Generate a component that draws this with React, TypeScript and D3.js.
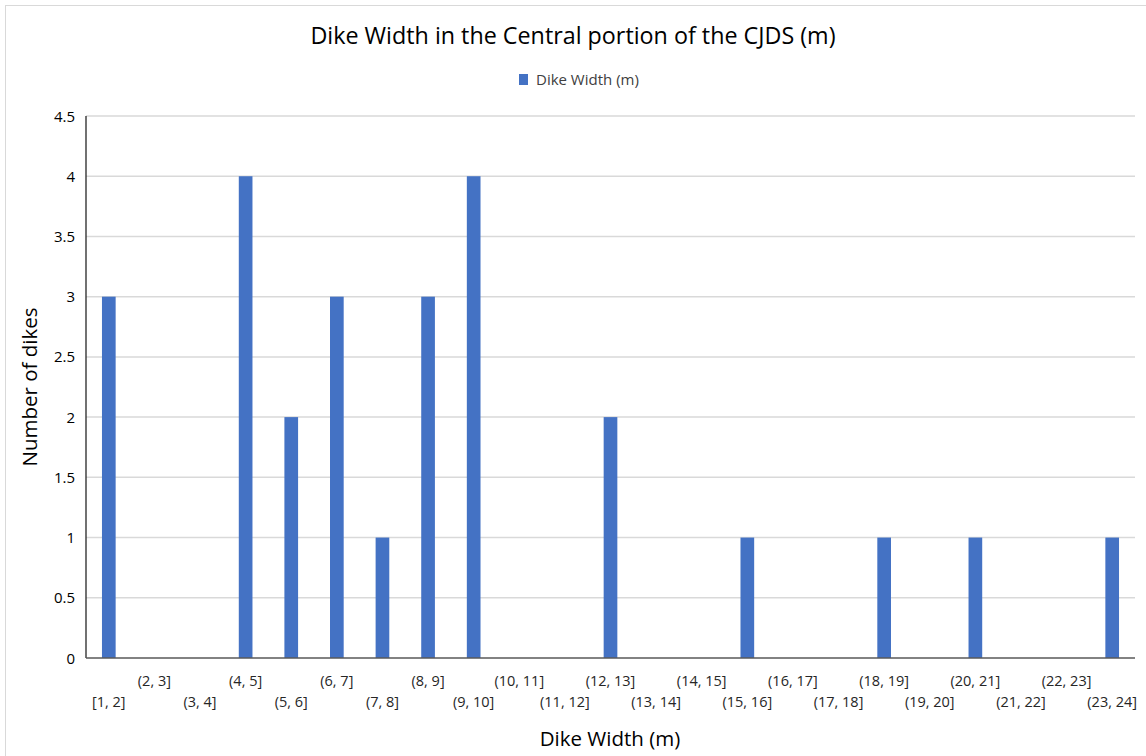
import React from "react";
import * as d3 from "d3";

const categories = [
  "[1, 2]", "(2, 3]", "(3, 4]", "(4, 5]", "(5, 6]", "(6, 7]", "(7, 8]", "(8, 9]",
  "(9, 10]", "(10, 11]", "(11, 12]", "(12, 13]", "(13, 14]", "(14, 15]", "(15, 16]",
  "(16, 17]", "(17, 18]", "(18, 19]", "(19, 20]", "(20, 21]", "(21, 22]", "(22, 23]", "(23, 24]",
];
const counts = [3, 0, 0, 4, 2, 3, 1, 3, 4, 0, 0, 2, 0, 0, 1, 0, 0, 1, 0, 1, 0, 0, 1];
const yTicks = [0, 0.5, 1, 1.5, 2, 2.5, 3, 3.5, 4, 4.5];
const tickLabels = ["0", "0.5", "1", "1.5", "2", "2.5", "3", "3.5", "4", "4.5"];

const W = 1146;
const H = 756;
const FONT = "'Open Sans', 'Liberation Sans', sans-serif";
const BAR = "#4472C4";

export default function App() {
  const left = 86, right = 1135, top = 116, bottom = 658;
  const x = d3.scaleBand<string>().domain(categories).range([left, right]).paddingInner(0.7).paddingOuter(0.35);
  const xc = d3.scaleBand<string>().domain(categories).range([left, right]);
  const y = d3.scaleLinear().domain([0, 4.5]).range([bottom, top]);

  return (
    <svg width={W} height={H} style={{ position: "absolute", left: 0, top: 0, background: "#fff" }}>
      <rect x={5.5} y={5.5} width={W + 10} height={H + 10} fill="#fff" stroke="#d9d9d9" />
      <text x={573} y={44} textAnchor="middle" fontFamily={FONT} fontSize={23.3} fill="#000">
        Dike Width in the Central portion of the CJDS (m)
      </text>
      {/* legend */}
      <rect x={519} y={74} width={9} height={11} fill={BAR} />
      <text x={536} y={85} fontFamily={FONT} fontSize={15} fill="#404040">Dike Width (m)</text>

      {/* gridlines */}
      {yTicks.slice(1).map((t) => (
        <line key={t} x1={left} x2={right} y1={y(t)} y2={y(t)} stroke="#d9d9d9" strokeWidth={1.5} />
      ))}
      {yTicks.map((t, i) => (
        <text key={"l" + t} x={75} y={y(t) + 5.5} textAnchor="end" fontFamily={FONT} fontSize={15} fill="#000">
          {tickLabels[i]}
        </text>
      ))}

      {/* bars */}
      {categories.map((c, i) => (
        <rect key={c} x={x(c)} width={x.bandwidth()} y={y(counts[i])} height={y(0) - y(counts[i])} fill={BAR} />
      ))}

      {/* axes */}
      <line x1={left} x2={left} y1={top} y2={bottom} stroke="#262626" strokeWidth={1.3} />
      <line x1={left} x2={right} y1={bottom} y2={bottom} stroke="#595959" strokeWidth={1.5} />

      {categories.map((c, i) => (
        <text key={"c" + c} x={(xc(c) as number) + xc.bandwidth() / 2} y={i % 2 === 1 ? 686 : 707}
          textAnchor="middle" fontFamily={FONT} fontSize={14.5} fill="#262626">
          {c}
        </text>
      ))}

      <text x={610} y={746} textAnchor="middle" fontFamily={FONT} fontSize={20.5} fill="#000">Dike Width (m)</text>
      <text transform={`translate(37, ${(top + bottom) / 2}) rotate(-90)`} textAnchor="middle" fontFamily={FONT} fontSize={20.5} fill="#000">
        Number of dikes
      </text>
    </svg>
  );
}
